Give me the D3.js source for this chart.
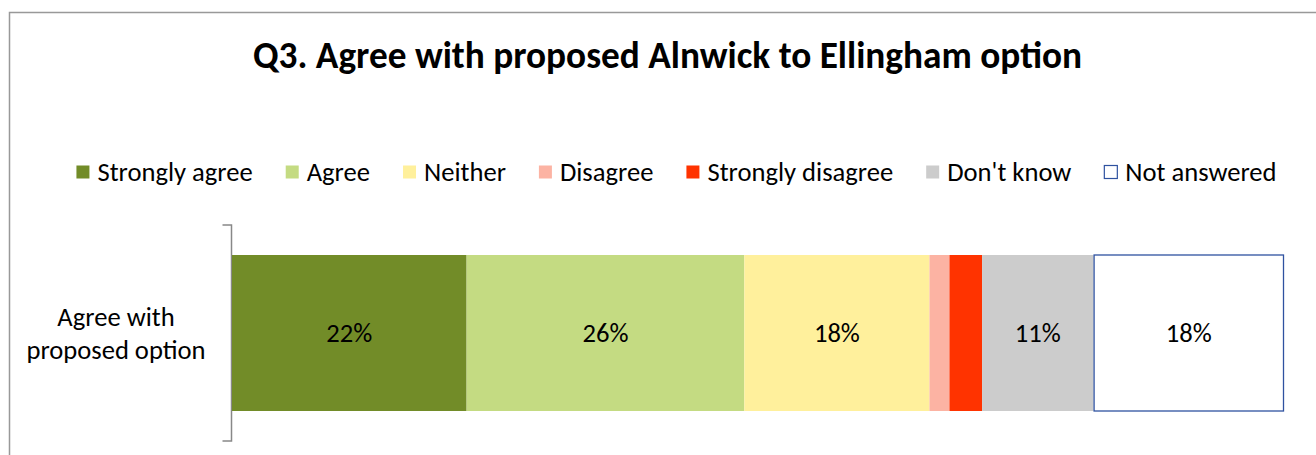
<!DOCTYPE html>
<html>
<head>
<meta charset="utf-8">
<script src="https://cdn.jsdelivr.net/npm/d3@7"></script>
<style>
  html, body { margin: 0; padding: 0; background: #fff; }
  svg { display: block; font-family: Carlito, Calibri, Lato, sans-serif; }
</style>
</head>
<body>
<svg id="chart" width="1316" height="455"></svg>
<script>
// Survey responses, percent of respondents
const title = "Q3. Agree with proposed Alnwick to Ellingham option";
const categories = ["Agree with proposed option"];
const categoryLines = [["Agree with", "proposed option"]];
const responses = ["Strongly agree", "Agree", "Neither", "Disagree", "Strongly disagree", "Don't know", "Not answered"];
const values = [22.3, 26.4, 17.6, 1.9, 3.1, 10.6, 18.1];
const colors = ["#728C28", "#C4DB82", "#FFF09C", "#FCB3A3", "#FF3300", "#CCCCCC", "#FFFFFF"];
const outlines = [null, null, null, null, null, null, "#2F52A0"];

const svg = d3.select("#chart");
const W = 1316, H = 455;
const bodyFont = 26.6;

// outer chart frame (runs off the right and bottom edges)
svg.append("rect")
  .attr("x", 9.5).attr("y", 12.5)
  .attr("width", W).attr("height", H)
  .attr("fill", "#fff").attr("stroke", "#999").attr("stroke-width", 1.5);

// title
svg.append("text")
  .attr("x", 667.5).attr("y", 68)
  .attr("text-anchor", "middle")
  .attr("font-weight", "bold")
  .attr("font-size", 37.3)
  .attr("fill", "#000")
  .text(title);

// legend, laid out left to right from measured label widths
const sq = 13, sqGap = 8, itemGap = 33, legendY = 172;
const legend = svg.append("g");
const items = legend.selectAll("g.item").data(responses).join("g").attr("class", "item");
items.append("rect")
  .attr("width", sq).attr("height", sq)
  .attr("y", legendY - sq / 2)
  .attr("fill", (d, i) => colors[i])
  .attr("stroke", (d, i) => outlines[i] || "none")
  .attr("stroke-width", 1.2);
items.append("text")
  .attr("x", sq + sqGap)
  .attr("y", legendY + 9)
  .attr("font-size", bodyFont)
  .attr("fill", "#000")
  .text(d => d);
let cursor = 0;
const offsets = [];
items.each(function () {
  offsets.push(cursor);
  const w = d3.select(this).select("text").node().getComputedTextLength();
  cursor += sq + sqGap + w + itemGap;
});
const legendWidth = cursor - itemGap;
const legendLeft = 676.5 - legendWidth / 2;
items.attr("transform", (d, i) => `translate(${legendLeft + offsets[i]},0)`);

// scales
const x = d3.scaleLinear().domain([0, 100]).range([232, 1284]);
const y = d3.scaleBand().domain(categories).range([225, 441]).paddingInner(0).paddingOuter(0.1923);

// category axis on the left
const yAxis = d3.axisLeft(y).tickSize(0).tickFormat("");
const axisG = svg.append("g").attr("transform", "translate(231.5,0)").call(yAxis);
axisG.select(".domain").remove();
axisG.append("path")
  .attr("d", `M-9,${y.range()[0]}H0V${y.range()[1]}H-9`)
  .attr("fill", "none").attr("stroke", "#888").attr("stroke-width", 1.5);

// category label, two lines centred left of the axis
categories.forEach((c, ci) => {
  const cy = y(c) + y.bandwidth() / 2;
  const t = svg.append("text")
    .attr("text-anchor", "middle")
    .attr("font-size", bodyFont)
    .attr("fill", "#000");
  const lines = categoryLines[ci];
  lines.forEach((ln, li) => {
    t.append("tspan")
      .attr("x", 116)
      .attr("y", cy + (li - (lines.length - 1) / 2) * 33 + 9)
      .text(ln);
  });
});

// stacked segments
const starts = d3.cumsum([0, ...values.slice(0, -1)]);
const segs = values.map((v, i) => ({ v, start: starts[i], i }));
categories.forEach(c => {
  const g = svg.append("g");
  g.selectAll("rect").data(segs).join("rect")
    .attr("x", d => x(d.start) + (outlines[d.i] ? 0.5 : 0))
    .attr("y", y(c) + (outlines[0] ? 0 : 0))
    .attr("width", d => x(d.start + d.v) - x(d.start) - (outlines[d.i] ? 1 : 0))
    .attr("height", y.bandwidth())
    .attr("fill", d => colors[d.i])
    .attr("stroke", d => outlines[d.i] || "none")
    .attr("stroke-width", 1.3);
  g.selectAll("text").data(segs.filter(d => d.v >= 5)).join("text")
    .attr("x", d => x(d.start + d.v / 2))
    .attr("y", y(c) + y.bandwidth() / 2 + 9)
    .attr("text-anchor", "middle")
    .attr("font-size", bodyFont)
    .attr("fill", "#000")
    .text(d => Math.round(d.v) + "%");
});
</script>
</body>
</html>
